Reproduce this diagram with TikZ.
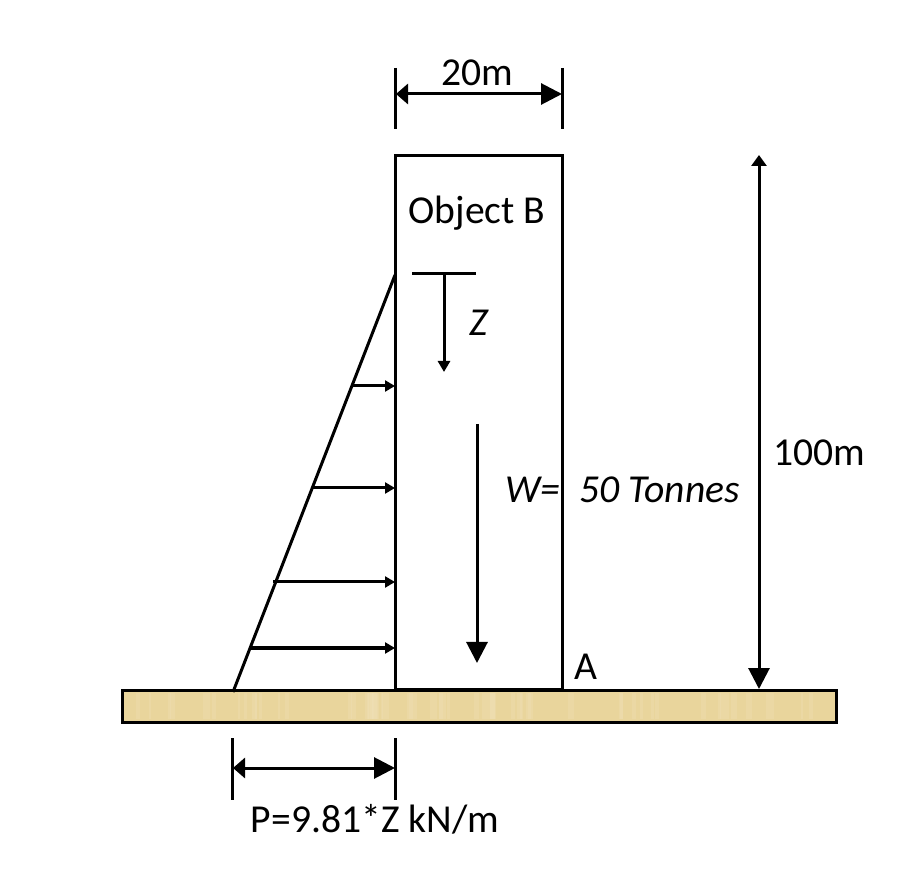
\documentclass[tikz,border=0pt]{standalone}
\usepackage{fontspec}
\setmainfont{Carlito}
\usepackage{xcolor}
\usetikzlibrary{arrows.meta, positioning}
\definecolor{groundtan}{HTML}{E9D59C}
\definecolor{groundpale}{HTML}{F1E3BC}
\tikzset{
  label/.style={font=\fontsize{39.6}{42}\selectfont, inner sep=0pt},
  wall/.style={line width=3},
  dimline/.style={line width=3},
  smalltip/.tip={Triangle[length=11, width=12]},
  bigtip/.tip={Triangle[length=21, width=21]},
  backtip/.tip={Triangle[length=12, width=20]}
}

\begin{document}
\begin{tikzpicture}[x=1pt, y=-1pt, >={Triangle[length=10, width=11]}]
    \useasboundingbox (0,0) rectangle (914,874);
    \fill[white] (0,0) rectangle (914,874);
    % ground
    \fill[groundtan] (122,690) rectangle (836,722);
    \pgfmathsetseed{7}
    \foreach \Streak in {1,...,60}{
      \pgfmathsetmacro{\StreakX}{126+random(0,700)}
      \pgfmathsetmacro{\StreakW}{random(2,7)}
      \fill[groundpale, opacity=0.25] (\StreakX,693) rectangle (\StreakX+\StreakW,719);
    }
    \draw[wall] (122,690) rectangle (836,722);
    % object
    \coordinate (BoxTL) at (395,156);
    \coordinate (BoxBR) at (562,689);
    \draw[wall] (BoxTL) rectangle (BoxBR);
    % pressure triangle
    \coordinate (PressTop) at (395,275);
    \coordinate (PressFoot) at (233,692);
    \draw[wall] (PressTop) -- (PressFoot);
    \foreach \LoadName/\LoadX/\LoadY in {
      a/352/386,
      b/313/488,
      c/273/582,
      d/250/648
    }{
      \coordinate (load\LoadName) at (\LoadX,\LoadY);
      \coordinate (wall\LoadName) at (395,\LoadY);
      \draw[->, dimline] (load\LoadName) -- (wall\LoadName);
    }
    % depth Z
    \coordinate (BarL) at (412,274);
    \coordinate (BarR) at (476,274);
    \coordinate (ZTop) at (444,274);
    \coordinate (ZEnd) at (444,372);
    \draw[dimline] (BarL) -- (BarR);
    \draw[-{smalltip}, dimline] (ZTop) -- (ZEnd);
    % weight
    \coordinate (WTop) at (477,424);
    \coordinate (WEnd) at (477,663);
    \draw[-{bigtip}, dimline] (WTop) -- (WEnd);
    % dimensions
    \coordinate (HTop) at (759,155);
    \coordinate (HEnd) at (759,689);
    \draw[{Triangle[length=11, width=15]}-{bigtip}, dimline] (HTop) -- (HEnd);
    \foreach \TickName/\TickX/\TickA/\TickB in {
      ta/395/68/129,
      tb/562/68/129,
      ba/232/738/800,
      bb/395/738/800
    }{
      \coordinate (\TickName1) at (\TickX,\TickA);
      \coordinate (\TickName2) at (\TickX,\TickB);
      \draw[dimline] (\TickName1) -- (\TickName2);
    }
    \coordinate (TopL) at (396,94);
    \coordinate (TopR) at (562,94);
    \coordinate (BotL) at (233,768);
    \coordinate (BotR) at (395,768);
    \draw[{backtip}-{bigtip}, dimline] (TopL) -- (TopR);
    \draw[{backtip}-{bigtip}, dimline] (BotL) -- (BotR);
    % labels
    \node[label] (width) at (477,73) {20m};
    \node[label] (object) at (477,213.5) {Object B};
    \node[label] (depth) at (479,323) {\itshape Z};
    \node[label] (weight) at (622.5,490) {\itshape W=\hspace{19pt}50 Tonnes};
    \node[label] (height) at (819,453) {100m};
    \node[label] (pointA) at (586,666.5) {A};
    \node[label] (pressure) at (375,819) {P=9.81*Z kN/m};
  \end{tikzpicture}
\end{document}
